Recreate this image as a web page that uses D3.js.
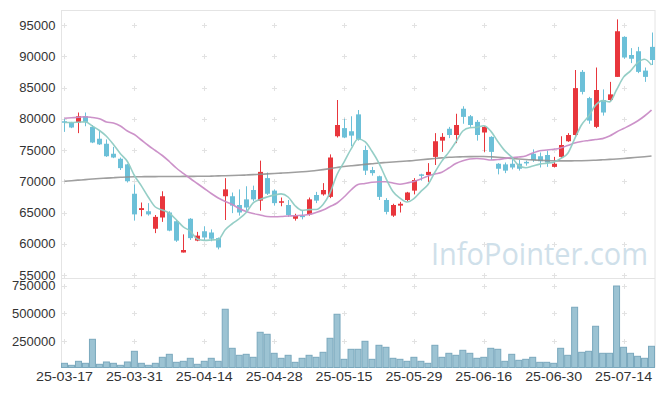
<!DOCTYPE html>
<html>
<head>
<meta charset="utf-8">
<script src="https://cdn.jsdelivr.net/npm/d3@7"></script>
<style>
  html, body { margin: 0; padding: 0; background: #fff; }
  svg { display: block; font-family: "Liberation Sans", Arial, sans-serif; }
</style>
</head>
<body>
<div id="chart"></div>
<script>
// trading days (yy-mm-dd)
const dates = [
  "25-03-17","25-03-18","25-03-19","25-03-20","25-03-21","25-03-24","25-03-25","25-03-26","25-03-27","25-03-28",
  "25-03-31","25-04-01","25-04-02","25-04-03","25-04-04","25-04-07","25-04-08","25-04-09","25-04-10","25-04-11",
  "25-04-14","25-04-15","25-04-16","25-04-17","25-04-18","25-04-21","25-04-22","25-04-23","25-04-24","25-04-25",
  "25-04-28","25-04-29","25-04-30","25-05-02","25-05-07","25-05-08","25-05-09","25-05-12","25-05-13","25-05-14",
  "25-05-15","25-05-16","25-05-19","25-05-20","25-05-21","25-05-22","25-05-23","25-05-26","25-05-27","25-05-28",
  "25-05-29","25-05-30","25-06-02","25-06-04","25-06-05","25-06-09","25-06-10","25-06-11","25-06-12","25-06-13",
  "25-06-16","25-06-17","25-06-18","25-06-19","25-06-20","25-06-23","25-06-24","25-06-25","25-06-26","25-06-27",
  "25-06-30","25-07-01","25-07-02","25-07-03","25-07-04","25-07-07","25-07-08","25-07-09","25-07-10","25-07-11",
  "25-07-14","25-07-15","25-07-16","25-07-17","25-07-18"
];

const opens = [
  79600,79400,79400,80400,78700,76800,76000,74400,73600,72700,
  68000,65400,65200,62400,64200,65000,63600,58600,64000,60500,
  62000,61800,60900,67600,67600,66200,67100,68600,66900,70500,
  68500,66600,66200,64000,64500,64700,67800,67900,67500,77200,
  78500,78000,80700,75000,71800,70800,67000,64500,66100,67000,
  68500,71100,71000,73900,76500,78400,77400,81600,80400,79500,
  77800,77100,72800,72700,72800,72800,73100,74400,74000,74200,
  72300,73900,76400,77400,87500,83300,78700,83000,83000,86700,
  93100,90200,90800,87700,91500
];
const highs = [
  80000,79500,81000,81000,79000,78100,76700,75500,73800,72800,
  69500,66600,66500,64600,68400,65200,63800,61500,64100,61900,
  62800,62300,61000,70500,68200,68700,69200,69300,73300,71400,
  68700,67400,67000,64800,65400,67400,68300,69700,74300,83000,
  80000,80400,81400,75700,72300,70900,67300,66400,66700,68300,
  70500,71200,72900,77700,77700,78700,80800,82000,80600,79800,
  78800,77200,72900,73000,73500,73400,73300,75100,74600,74900,
  73900,77200,77700,87800,87800,83500,88200,84700,85900,95900,
  93200,91300,91500,88200,93800
];
const lows = [
  77900,78500,77700,78800,76100,75800,73900,73700,71800,69800,
  63700,64400,64500,61700,63500,62000,60300,58600,60600,60400,
  60600,60400,59100,63800,64900,64500,65300,66800,65300,67800,
  66100,66000,64300,63700,63900,64500,66500,67700,67300,77000,
  76900,75600,76500,71000,70900,67000,64700,64300,65000,66800,
  67900,70100,69900,72600,74700,76900,76100,79200,78700,76500,
  74700,73400,71100,71300,71900,71700,72500,73100,72200,72300,
  72200,73700,76300,77300,83900,79200,78500,80500,82800,86700,
  89600,88900,87300,85900,88600
];
const closes = [
  79400,78600,80400,79500,76200,75900,74000,73800,72100,70000,
  64700,65700,64700,64300,67600,62100,60500,59000,60900,61300,
  61000,60800,59400,68700,66100,65000,65800,67100,71500,68000,
  66500,66800,64600,64500,64300,67100,66900,68600,73800,79000,
  77000,77300,76700,71700,71300,67500,65100,66200,66400,68200,
  70200,70900,71500,76400,77100,77400,79000,80300,79000,77400,
  78700,74700,72000,71700,72200,72000,72900,73400,73200,73000,
  72800,75800,77400,84900,84300,79700,84600,81000,83900,94000,
  89800,89600,87500,86700,89400
];
const volumes = [
  52000,34000,70000,52000,268000,43000,64000,52000,34000,64000,
  160000,52000,34000,52000,106000,133000,61000,70000,97000,43000,
  70000,97000,70000,538000,187000,124000,133000,106000,331000,313000,
  142000,97000,124000,61000,97000,124000,106000,151000,277000,493000,
  88000,178000,178000,250000,88000,214000,196000,97000,88000,70000,
  106000,70000,52000,214000,106000,142000,124000,169000,142000,97000,
  106000,187000,178000,70000,133000,79000,88000,106000,61000,61000,
  52000,187000,124000,556000,151000,160000,385000,142000,142000,747000,
  196000,142000,115000,97000,205000
];

// moving averages as drawn
const ma5 = [
  79400,79400,79450,79500,78820,78120,77200,75880,74400,73160,
  70920,69260,67440,65880,65400,64880,63840,62700,62020,60760,
  60540,60600,60680,62240,63200,64000,65000,66540,67100,67480,
  67780,67980,67480,66080,65340,65460,65480,66280,68140,71080,
  73060,75140,76760,76340,74800,72900,70460,68360,67300,66680,
  67220,68380,69440,71440,73220,74660,76280,78040,78560,78620,
  78880,78020,76360,74900,73860,72520,72160,72440,72740,72900,
  73060,73640,74440,76780,79040,80420,82180,82900,82700,84640,
  86660,87660,88960,89520,88600
];
const ma20 = [
  80070,80150,80230,80330,80200,80010,79480,79320,78840,78040,
  77480,76600,75720,74920,74120,73160,72120,71270,70440,69640,
  68840,68040,67320,66760,66280,65640,65160,64840,64600,64360,
  64330,64360,64440,64470,64550,64680,65000,65400,65960,66520,
  67480,68600,69480,69640,69830,69930,69930,69720,69510,69720,
  69960,70360,70840,71160,71430,72120,72840,73290,73560,73640,
  73560,73400,73480,73640,73800,73880,74040,74520,74890,75000,
  75110,75320,75720,76120,76360,76520,76680,76820,77240,77880,
  78440,79000,79640,80440,81400
];
const ma120 = [
  69990,70090,70180,70260,70360,70440,70500,70570,70630,70680,
  70710,70730,70740,70740,70760,70760,70760,70780,70780,70790,
  70790,70820,70860,70890,70920,70950,71000,71060,71110,71180,
  71240,71300,71370,71450,71510,71590,71720,71860,72020,72200,
  72360,72470,72580,72700,72810,72920,73000,73080,73160,73240,
  73320,73430,73540,73640,73740,73830,73880,73910,73940,73960,
  73960,73910,73850,73770,73660,73560,73480,73420,73350,73300,
  73270,73260,73260,73270,73290,73320,73370,73430,73500,73560,
  73640,73740,73830,73930,74040
];

const priceTicks = [55000, 60000, 65000, 70000, 75000, 80000, 85000, 90000, 95000];
const volumeTicks = [250000, 500000, 750000];
const dateTicks = ["25-03-17","25-03-31","25-04-14","25-04-28","25-05-15","25-05-29","25-06-16","25-06-30","25-07-14"];

const width = 665, height = 396;
const left = 61.5, right = 655;
const priceTop = 10, priceBottom = 278;
const volTop = 278, volBottom = 367.5;

const upColor = "#e8363c", downColor = "#6cc0d8";

const svg = d3.select("#chart").append("svg")
  .attr("width", width)
  .attr("height", height);

const x = d3.scaleBand()
  .domain(d3.range(dates.length))
  .range([61, 655]);
const cx = i => x(i) + x.bandwidth() / 2;

const yPrice = d3.scaleLinear().domain([54520, 97400]).range([priceBottom, priceTop]);
const yVol = d3.scaleLinear().domain([14400, 819000]).range([volBottom, volTop]);

const tickIdx = dateTicks.map(d => dates.indexOf(d));

// frame
const frame = svg.append("g").attr("stroke", "#e4e4e4").attr("fill", "none");
frame.append("line").attr("x1", left).attr("x2", left).attr("y1", priceTop).attr("y2", volBottom);
frame.append("line").attr("x1", left).attr("x2", right).attr("y1", priceTop + 0.5).attr("y2", priceTop + 0.5);
frame.append("line").attr("x1", right).attr("x2", right).attr("y1", priceTop).attr("y2", volBottom);
frame.append("line").attr("x1", left).attr("x2", right).attr("y1", volTop + 0.5).attr("y2", volTop + 0.5);

// small + marks at grid crossings
const marks = [];
tickIdx.forEach(i => {
  priceTicks.forEach(p => marks.push([cx(i), yPrice(p)]));
  volumeTicks.forEach(v => marks.push([cx(i), yVol(v)]));
});
svg.append("g").attr("stroke", "#e2e2e2").attr("stroke-width", 1)
  .selectAll("path").data(marks).join("path")
  .attr("d", d => {
    const px = Math.round(d[0]) + 0.5, py = Math.round(d[1]) + 0.5;
    return `M${px - 2.5},${py}H${px + 2.5}M${px},${py - 2.5}V${py + 2.5}`;
  });

// watermark
svg.append("text")
  .attr("x", 431).attr("y", 265)
  .attr("textLength", 217).attr("lengthAdjust", "spacingAndGlyphs")
  .style("font-family", "'Open Sans', 'Noto Sans', sans-serif")
  .style("font-size", "31px")
  .attr("fill", "#cfe0ea")
  .text("InfoPointer.com");

// moving average lines
const line = d3.line().x((d, i) => cx(i)).y(d => yPrice(d)).curve(d3.curveMonotoneX);
const maLines = [
  { data: ma120, color: "#8e8e8e", w: 1.6, o: 0.85 },
  { data: ma20, color: "#c98cc6", w: 1.6, o: 0.95 },
  { data: ma5, color: "#8fcbc3", w: 1.6, o: 0.95 },
];

// candles
const candles = svg.append("g");
const cData = d3.range(dates.length);
candles.selectAll("line").data(cData).join("line")
  .attr("x1", i => Math.round(cx(i)) + 0.5)
  .attr("x2", i => Math.round(cx(i)) + 0.5)
  .attr("y1", i => yPrice(highs[i]))
  .attr("y2", i => yPrice(lows[i]))
  .attr("stroke", i => closes[i] >= opens[i] ? upColor : downColor)
  .attr("stroke-width", 1);
candles.selectAll("rect").data(cData).join("rect")
  .attr("x", i => Math.round(cx(i)) - 2)
  .attr("width", 5)
  .attr("y", i => yPrice(Math.max(opens[i], closes[i])))
  .attr("height", i => Math.max(1.5, yPrice(Math.min(opens[i], closes[i])) - yPrice(Math.max(opens[i], closes[i]))))
  .attr("fill", i => closes[i] >= opens[i] ? upColor : downColor);

maLines.forEach(m => {
  svg.append("path")
    .attr("d", line(m.data))
    .attr("fill", "none")
    .attr("stroke", m.color)
    .attr("stroke-width", m.w)
    .attr("stroke-opacity", m.o);
});

// volume bars
svg.append("g").selectAll("rect").data(cData).join("rect")
  .attr("x", i => x(i) + 0.5)
  .attr("width", x.bandwidth() - 1)
  .attr("y", i => yVol(volumes[i]))
  .attr("height", i => volBottom - yVol(volumes[i]))
  .attr("fill", "#9cc3d3")
  .attr("stroke", "#7aa8bd")
  .attr("stroke-width", 1);

// axes
const styleAxis = g => {
  g.select(".domain").remove();
  g.selectAll("text").attr("fill", "#333").style("font-size", "13px");
};
svg.append("g")
  .attr("transform", `translate(${left},0)`)
  .call(d3.axisLeft(yPrice).tickValues(priceTicks).tickSize(0).tickPadding(6).tickFormat(d3.format("d")))
  .call(styleAxis);
svg.append("g")
  .attr("transform", `translate(${left},0)`)
  .call(d3.axisLeft(yVol).tickValues(volumeTicks).tickSize(0).tickPadding(6).tickFormat(d3.format("d")))
  .call(styleAxis);
svg.append("g")
  .attr("transform", `translate(0,${volBottom})`)
  .call(d3.axisBottom(x).tickValues(tickIdx).tickSize(0).tickPadding(4).tickFormat(i => dates[i]))
  .call(styleAxis)
  .selectAll("text")
  .style("font-size", "13.5px")
  .attr("textLength", 57).attr("lengthAdjust", "spacingAndGlyphs");
</script>
</body>
</html>
